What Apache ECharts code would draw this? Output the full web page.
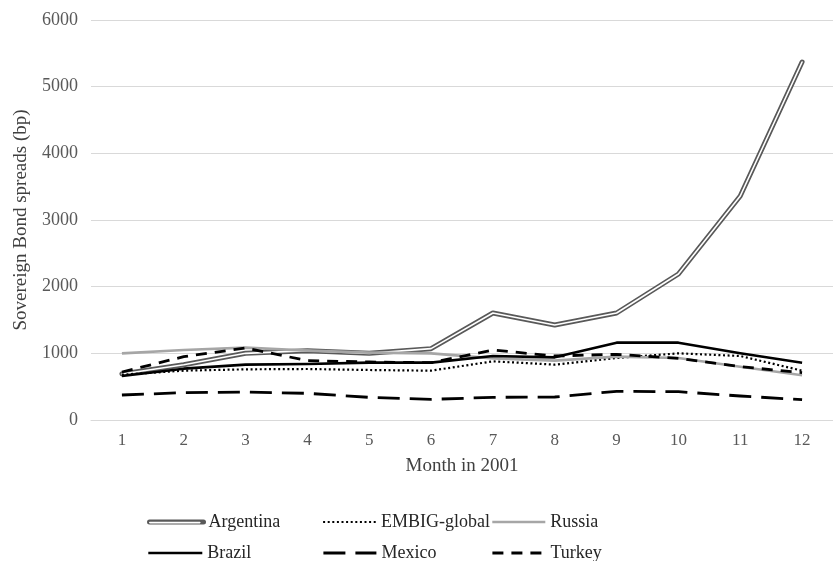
<!DOCTYPE html>
<html><head><meta charset="utf-8">
<script src="https://cdn.jsdelivr.net/npm/echarts@6/dist/echarts.min.js"></script>
<style>html,body{margin:0;padding:0;background:#fff}#c{width:833px;height:561px}</style>
</head><body><div id="c"></div>
<script>
const months = ['1','2','3','4','5','6','7','8','9','10','11','12'];
const yTicks = [0, 1000, 2000, 3000, 4000, 5000, 6000];
const argentina = [690, 830, 1000, 1040, 1000, 1070, 1605, 1425, 1605, 2190, 3360, 5370];
const embig     = [680, 740, 760, 765, 750, 740, 880, 830, 930, 1000, 960, 740];
const russia    = [1000, 1050, 1085, 1040, 1010, 1000, 925, 890, 950, 930, 800, 670];
const brazil    = [660, 770, 830, 840, 860, 860, 960, 940, 1160, 1160, 1000, 860];
const mexico    = [375, 410, 420, 400, 340, 310, 340, 345, 430, 425, 360, 305];
const turkey    = [720, 950, 1080, 890, 870, 860, 1050, 960, 985, 925, 800, 710];

const FONT = '"Liberation Serif", "Times New Roman", serif';
const chart = echarts.init(document.getElementById('c'), null, {renderer: 'canvas'});

function leg(name, left, top, w, lw, hideText) {
  return {
    data: [name], left: left, top: top, padding: 0, itemWidth: w, itemHeight: 14,
    selectedMode: false, orient: 'horizontal', z: hideText ? 20 : 4,
    itemStyle: {opacity: 0, borderWidth: 0},
    lineStyle: {width: lw},
    formatter: hideText ? function () { return ''; } : undefined,
    textStyle: {fontFamily: FONT, fontSize: 18, color: '#262626', lineHeight: 20}
  };
}
function line(name, data, color, width, type, cap) {
  return {
    name: name, type: 'line', data: data, symbol: 'none', showSymbol: false,
    lineStyle: {color: color, width: width, type: type, cap: cap || 'butt', join: 'round'},
    itemStyle: {color: color}, emphasis: {disabled: true}
  };
}
const r1 = 512, r2 = 543;
const option = {
  animation: false,
  backgroundColor: '#ffffff',
  grid: {left: 91, right: -7, top: 20, bottom: 141},
  xAxis: {
    type: 'category', data: months, boundaryGap: true,
    axisLine: {lineStyle: {color: '#d9d9d9', width: 1}},
    axisTick: {show: false},
    axisLabel: {color: '#595959', fontFamily: FONT, fontSize: 17, margin: 12},
    name: 'Month in 2001', nameLocation: 'middle', nameGap: 37,
    nameTextStyle: {color: '#404040', fontFamily: FONT, fontSize: 19}
  },
  yAxis: {
    type: 'value', min: yTicks[0], max: yTicks[yTicks.length - 1], interval: 1000,
    axisLine: {show: false}, axisTick: {show: false},
    splitLine: {lineStyle: {color: '#d9d9d9', width: 1}},
    axisLabel: {color: '#595959', fontFamily: FONT, fontSize: 18, margin: 13,
      formatter: function (v) { return String(v); }},
    name: 'Sovereign Bond spreads (bp)', nameLocation: 'middle', nameGap: 60, nameRotate: 90,
    nameTextStyle: {color: '#404040', fontFamily: FONT, fontSize: 19}
  },
  legend: [
    leg('Argentina', 147, r1, 54, 5),
    leg('EMBIG-global', 322, r1, 53, 2.2),
    leg('Russia', 491, r1, 53, 2.6),
    leg('Brazil', 147, r2, 54, 2.6),
    leg('Mexico', 322, r2, 53, 2.8),
    leg('Turkey', 491, r2, 53, 2.8),
    leg('Argentina-inner', 149, r1 + 5, 50, 1.6, true)
  ],
  series: [
    line('Argentina', argentina, '#595959', 5, 'solid', 'round'),
    Object.assign(line('Argentina-inner', argentina, '#ffffff', 1.6, 'solid', 'round'), {silent: true}),
    line('EMBIG-global', embig, '#000000', 2.2, [2, 2.6]),
    line('Russia', russia, '#a6a6a6', 2.6, 'solid'),
    line('Brazil', brazil, '#000000', 2.6, 'solid'),
    line('Mexico', mexico, '#000000', 2.8, [22, 10]),
    line('Turkey', turkey, '#000000', 2.8, [11, 8])
  ]
};
chart.setOption(option);
</script>
</body></html>
